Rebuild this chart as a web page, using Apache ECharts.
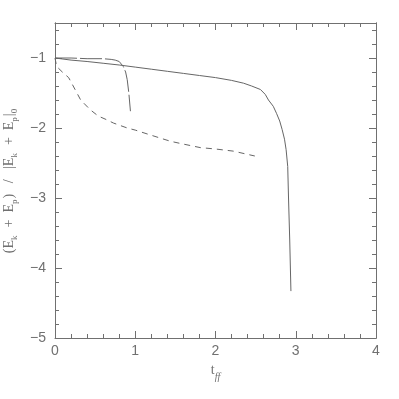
<!DOCTYPE html>
<html>
<head>
<meta charset="utf-8">
<script src="https://cdn.jsdelivr.net/npm/echarts@6/dist/echarts.min.js"></script>
<style>
  html, body { margin: 0; padding: 0; background: #fff; }
  #chart { width: 399px; height: 399px; }
</style>
</head>
<body>
<div id="chart"></div>
<script>
  // solid curve
  var solidT = [0, 0.2, 0.4, 0.6, 0.8, 1.0, 1.2, 1.4, 1.6, 1.8, 2.0, 2.2, 2.35, 2.45, 2.56, 2.62, 2.66, 2.72, 2.76, 2.8, 2.83, 2.86, 2.88, 2.9, 2.91, 2.925, 2.94];
  var solidE = [-1.0, -1.03, -1.05, -1.075, -1.1, -1.13, -1.16, -1.19, -1.22, -1.25, -1.28, -1.32, -1.36, -1.4, -1.45, -1.52, -1.6, -1.69, -1.79, -1.9, -2.02, -2.16, -2.31, -2.55, -3.0, -3.6, -4.33];
  // long dashes
  var longT = [0, 0.2, 0.4, 0.6, 0.7, 0.75, 0.8, 0.85, 0.88, 0.9, 0.92, 0.94];
  var longE = [-1.0, -1.0, -1.01, -1.01, -1.02, -1.03, -1.05, -1.12, -1.2, -1.31, -1.5, -1.76];
  // short dashes
  var shortT = [0, 0.02, 0.1, 0.17, 0.25, 0.32, 0.44, 0.54, 0.64, 0.73, 0.9, 1.0, 1.19, 1.44, 1.6, 1.81, 2.0, 2.22, 2.49];
  var shortE = [-1.0, -1.12, -1.21, -1.28, -1.45, -1.6, -1.74, -1.83, -1.88, -1.93, -2.0, -2.03, -2.1, -2.19, -2.23, -2.28, -2.3, -2.33, -2.4];

  var xTicks = [0, 1, 2, 3, 4];
  var yTicks = [-5, -4, -3, -2, -1];

  var ink = '#707070';
  var font = 'Liberation Sans';
  var serif = 'Liberation Serif';

  function pairs(t, e) {
    return t.map(function (v, i) { return [v, e[i]]; });
  }

  var chart = echarts.init(document.getElementById('chart'));

  var nameRich = {
    n: { fontSize: 14, color: ink, fontFamily: serif, lineHeight: 17, verticalAlign: 'top' },
    s: { fontSize: 9, color: ink, fontFamily: serif, padding: [8, 1, 0, 0], verticalAlign: 'top' }
  };

  function xAx(pos, major) {
    return {
      type: 'value', position: pos, min: xTicks[0], max: xTicks[xTicks.length - 1], interval: 1,
      axisLine: { show: true, onZero: false, lineStyle: { color: ink, width: 1 } },
      axisTick: { show: true, inside: true, length: 7, lineStyle: { color: ink } },
      minorTick: { show: true, splitNumber: 5, length: 4, lineStyle: { color: ink } },
      splitLine: { show: false },
      axisLabel: {
        show: major, color: ink, fontFamily: font, fontSize: 14, margin: 6,
        formatter: function (v) { return String(v); }
      },
      name: major ? '{n|t}{s|ff}' : '',
      nameLocation: 'middle', nameGap: 17,
      nameTextStyle: { rich: { n: nameRich.n, s: { fontSize: 10, color: ink, fontFamily: serif, fontStyle: 'italic', padding: [9, 0, 0, 0], verticalAlign: 'top' } } }
    };
  }

  function yAx(pos, step, len, labels) {
    return {
      type: 'value', position: pos, min: -5, max: -0.5, interval: step,
      axisLine: { show: true, onZero: false, lineStyle: { color: ink, width: 1 } },
      axisTick: { show: true, inside: true, length: len, lineStyle: { color: ink } },
      splitLine: { show: false },
      axisLabel: {
        show: labels, color: ink, fontFamily: font, fontSize: 14, margin: 9,
        formatter: function (v) {
          if (yTicks.indexOf(Math.round(v * 1000) / 1000) < 0) return '';
          return '\u2212' + Math.abs(v);
        }
      },
      name: labels ? '{n|(E}{s|k}{n|\u2002+\u2002E}{s|p}{n|) \u2002/\u2002 |E}{s|k}{n|\u2002+\u2002E}{s|p}{n||}{s|0}' : '',
      nameLocation: 'middle', nameRotate: 90, nameGap: 34,
      nameTextStyle: { rich: nameRich }
    };
  }

  chart.setOption({
    backgroundColor: '#fff',
    animation: false,
    grid: { left: 55, right: 23, top: 23, bottom: 61, outerBoundsMode: 'none', containLabel: false },
    xAxis: [xAx('bottom', true), xAx('top', false)],
    yAxis: [
      yAx('left', 1, 7, true),
      yAx('left', 0.2, 4, false),
      yAx('right', 1, 7, false),
      yAx('right', 0.2, 4, false)
    ],
    series: [
      {
        type: 'line', data: pairs(solidT, solidE), showSymbol: false, symbol: 'none',
        lineStyle: { color: '#666', width: 1 }
      },
      {
        type: 'line', data: pairs(longT, longE), showSymbol: false, symbol: 'none',
        lineStyle: { color: '#666', width: 1, type: [22, 3] }
      },
      {
        type: 'line', data: pairs(shortT, shortE), showSymbol: false, symbol: 'none',
        lineStyle: { color: '#666', width: 1, type: [6, 5] }
      }
    ]
  });
</script>
</body>
</html>
